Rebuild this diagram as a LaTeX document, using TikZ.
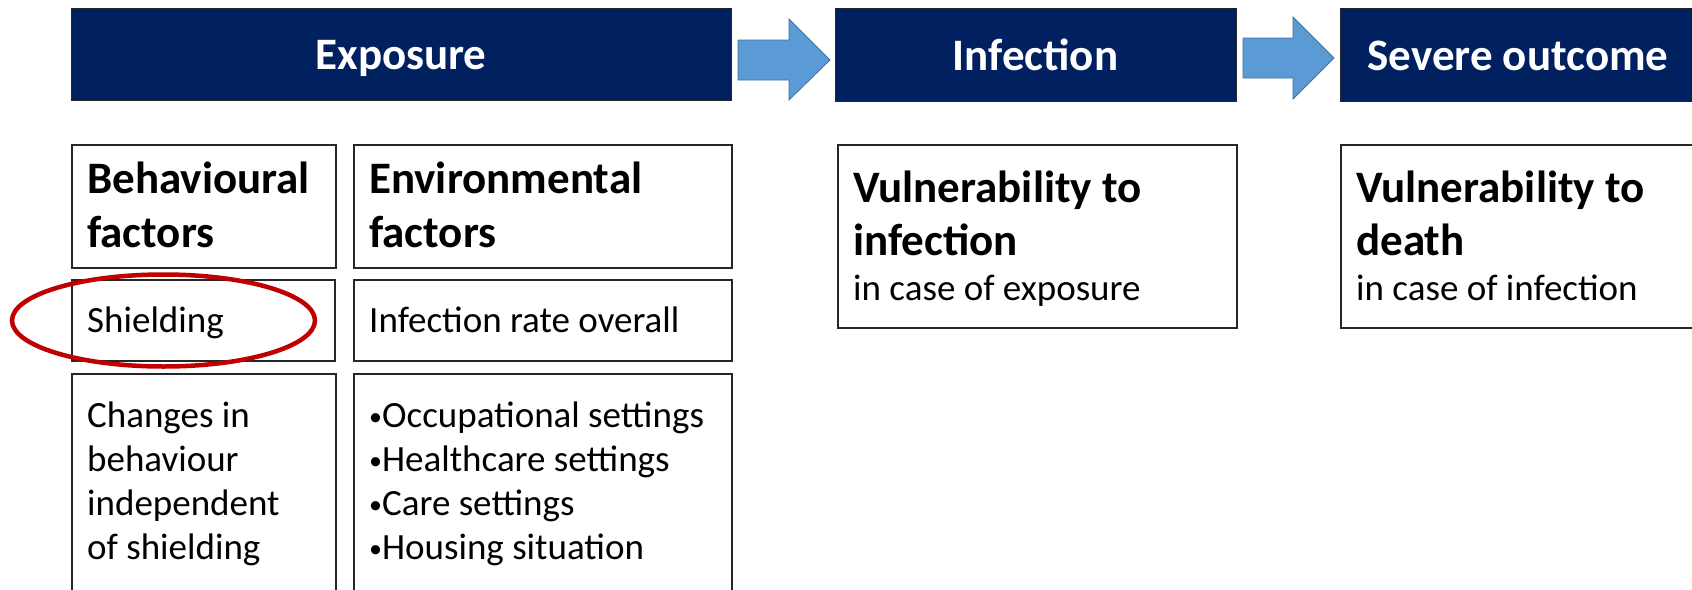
\documentclass[tikz,border=0pt]{standalone}
\usepackage{fontspec}
\setmainfont{Carlito}
\definecolor{navy}{HTML}{002060}
\definecolor{arrowblue}{HTML}{5B9BD5}
\definecolor{arrowedge}{HTML}{41719C}
\definecolor{ringred}{HTML}{C00000}
% small list bullet
\newcommand{\smallbul}{{\fontsize{26}{26}\selectfont\raisebox{2pt}{\textbullet}}}

\begin{document}
\begin{tikzpicture}[x=1pt,y=-1pt,
  stage/.style={fill=navy, draw=black!85, line width=1pt, anchor=north west, inner sep=0pt},
  stagetext/.style={text=white, anchor=base, inner sep=0pt, font=\fontsize{45}{54}\selectfont\bfseries},
  box/.style={draw=black!85, line width=1.6pt, anchor=north west, inner sep=0pt},
  head/.style={anchor=base west, inner sep=0pt, font=\fontsize{45}{54}\selectfont\bfseries},
  body/.style={anchor=base west, inner sep=0pt, font=\fontsize{37}{44}\selectfont},
  blockarrow/.style={fill=arrowblue, draw=arrowedge, line width=0.8pt, line join=miter},
  ring/.style={draw=ringred, line width=4.5pt},
]
\useasboundingbox (0,0) rectangle (1692,589);

% stage bars
\node[stage, minimum width=660pt, minimum height=92pt] (expo) at (71,8) {};
\node[stage, minimum width=401pt, minimum height=93pt] (infe) at (835,8) {};
\node[stage, minimum width=356pt, minimum height=93pt] (seve) at (1340,8) {};
\node[stagetext] (expolab) at (401,69.5) {Exposure};
\node[stagetext] (infelab) at (1035.5,70) {Infection};
\node[stagetext] (sevelab) at (1518,70) {Severe outcome};

% block arrows between the stages
\draw[blockarrow] (738,40) -- (789,40) -- (789,19) -- (830,60) -- (789,100) -- (789,80) -- (738,80) -- cycle;
\draw[blockarrow] (1243,38) -- (1293,38) -- (1293,17) -- (1334,58) -- (1293,99) -- (1293,78) -- (1243,78) -- cycle;

% exposure factor boxes
\node[box, minimum width=264pt, minimum height=123pt] (beh) at (71,144) {};
\node[box, minimum width=378pt, minimum height=123pt] (env) at (353,144) {};
\node[box, minimum width=263pt, minimum height=81pt] (shield) at (71,279) {};
\node[box, minimum width=378pt, minimum height=81pt] (rate) at (353,279) {};
\node[box, minimum width=264pt, minimum height=240pt] (chg) at (71,373) {};
\node[box, minimum width=378pt, minimum height=240pt] (sett) at (353,373) {};

\node[head] (behA) at (87,193) {Behavioural};
\node[head] (behB) at (87,247) {factors};
\node[head] (envA) at (369,193) {Environmental};
\node[head] (envB) at (369,247) {factors};
\node[body] (shieldlab) at (87,332) {Shielding};
\node[body] (ratelab) at (369,332) {Infection rate overall};

\foreach \t [count=\i] in {Changes in, behaviour, independent, of shielding}
  \node[body] (chg\i) at (87,{427+44*(\i-1)}) {\t};
\foreach \t [count=\i] in {Occupational settings, Healthcare settings, Care settings, Housing situation}
  \node[body] (sett\i) at (369,{427+44*(\i-1)}) {\smallbul\t};

% vulnerability boxes
\node[box, minimum width=399pt, minimum height=183pt] (vinf) at (837,144) {};
\node[box, minimum width=360pt, minimum height=183pt] (vdth) at (1340,144) {};
\node[head] (vinfA) at (853,202) {Vulnerability to};
\node[head] (vinfB) at (853,255) {infection};
\node[body] (vinfC) at (853,300) {in case of exposure};
\node[head] (vdthA) at (1356,202) {Vulnerability to};
\node[head] (vdthB) at (1356,255) {death};
\node[body] (vdthC) at (1356,300) {in case of infection};

% highlight ring round the shielding box
\draw[ring] (163.5,320.5) ellipse [x radius=151.5, y radius=46];
\end{tikzpicture}
\end{document}
